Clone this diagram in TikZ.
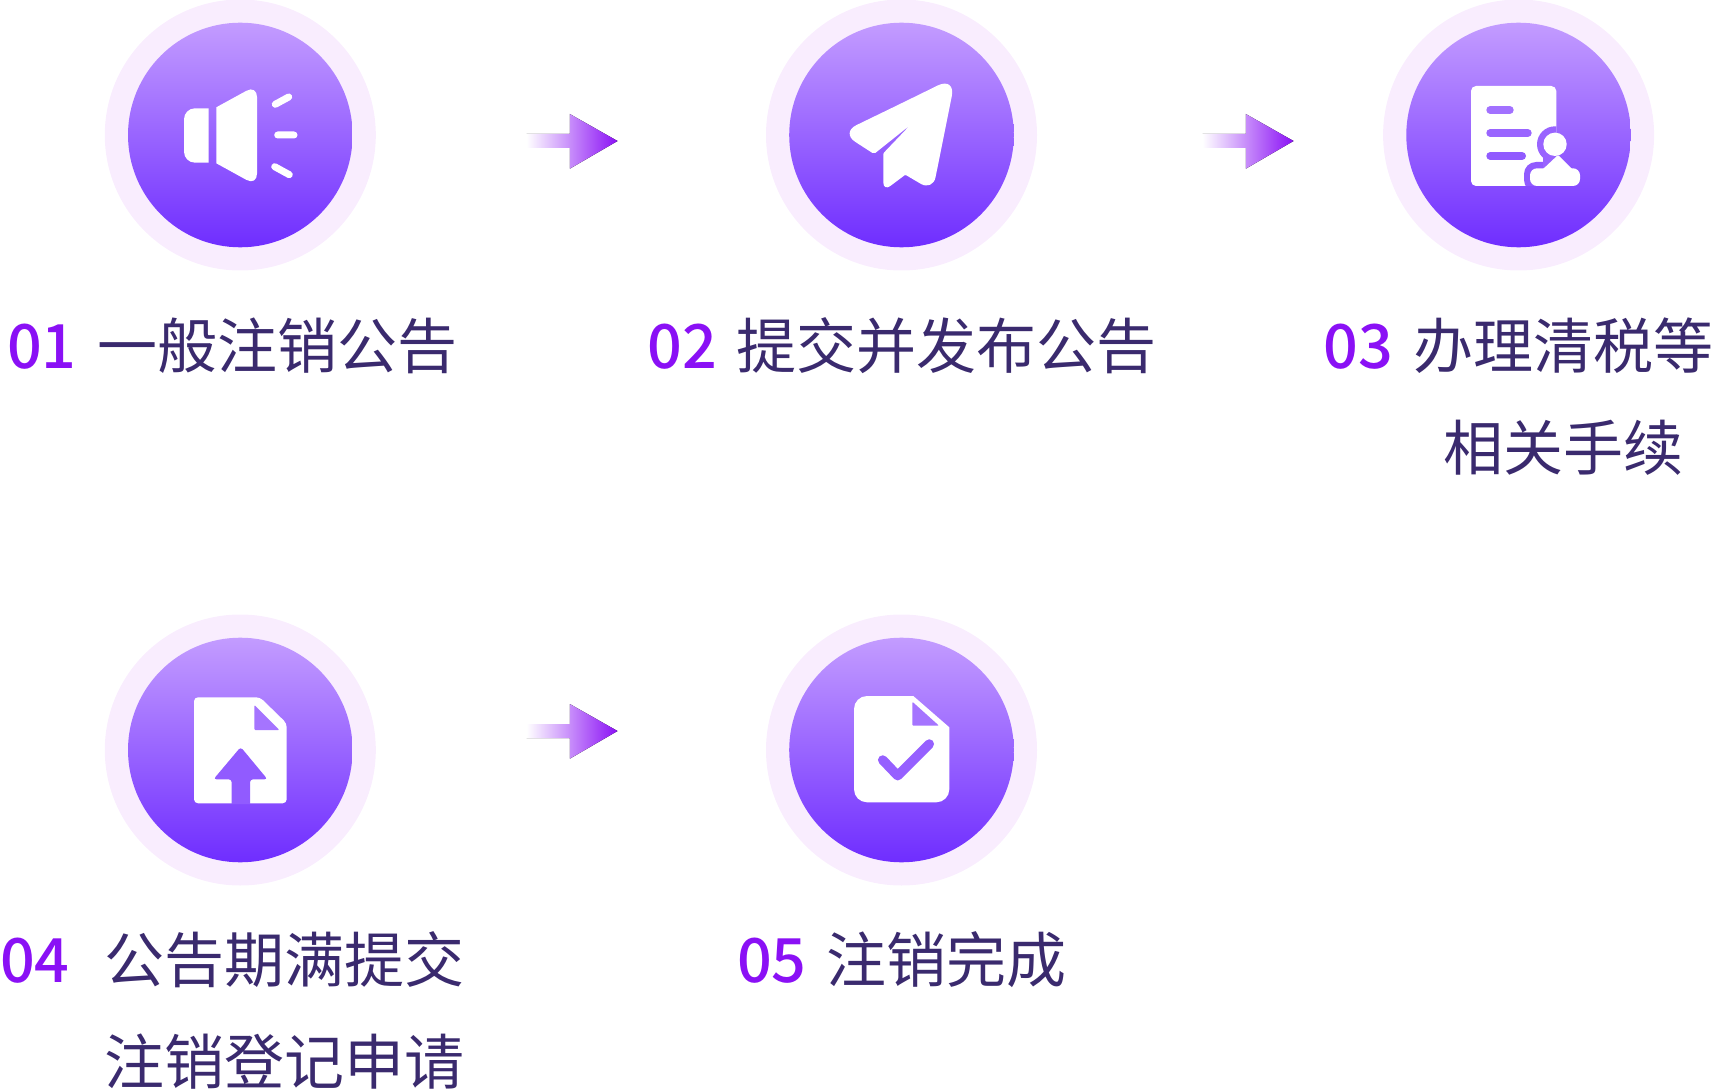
\documentclass[tikz,border=0pt]{standalone}
\usepackage{fontspec}
\usetikzlibrary{positioning}
\newfontfamily\cjk{Noto Sans CJK SC}
\newfontfamily\cjknum{Noto Sans CJK SC Medium}
\definecolor{circtop}{HTML}{C39CFF}
\definecolor{circbot}{HTML}{6F2DFF}
\definecolor{ringcol}{HTML}{F9EDFE}
\definecolor{numcol}{HTML}{8A10F5}
\definecolor{textcol}{HTML}{3A2A6E}
\tikzset{
  ring/.style={circle,fill=ringcol,minimum size=271pt,inner sep=0pt},
  disc/.style={circle,top color=circtop,bottom color=circbot,minimum size=224.6pt,inner sep=0pt},
  num/.style={font=\cjknum\fontsize{61}{102}\selectfont,text=numcol,inner sep=0pt,anchor=base west},
  label/.style={font=\cjk\fontsize{60}{102}\selectfont,text=textcol,inner sep=0pt,align=center},
  arrowfill/.style={left color=white,right color=numcol},
  iconline/.style={line cap=round,line join=round},
}
\begin{document}
\begin{tikzpicture}[x=1pt,y=-1pt]
\useasboundingbox (0,0) rectangle (1714,1091);

\foreach \nm/\cx/\cy in {a/240.3/135,b/901.5/135,c/1518.6/135,d/240.3/750,e/901.5/750}{
  \node[ring] (ring\nm) at (\cx,\cy) {};
  \node[disc] (disc\nm) at (\cx,\cy) {};
}

\foreach \ax/\ay in {0.5/0,676.5/0,0.5/590}{
  \fill[arrowfill,shift={(\ax,\ay)}] (526,134) -- (569.3,134) -- (569.3,114) -- (617,141)
    -- (569.3,168.7) -- (569.3,148) -- (526,148) -- cycle;
}

% speaker
\fill[white] (208.7,135) -- (208.7,108.3) [rounded corners=11pt] -- (184,108.3) -- (184,162.7) [sharp corners] -- (208.7,162.7) -- cycle;
\fill[white] (216.3,135) -- (216.3,107.3) [rounded corners=12pt] -- (257,85) -- (257,185.7) [sharp corners] -- (216.3,163.3) -- cycle;
\draw[white,line width=7pt,iconline] (275.3,104.3) -- (288.7,97) (277.7,135) -- (294,135) (274.7,166.7) -- (289.3,174.7);

% plane
\fill[white] (900,104) [rounded corners=20pt] -- (955.7,76.7) [rounded corners=14pt] -- (932.8,190.9) [rounded corners=1pt] -- (905.3,174.7) [rounded corners=9pt] -- (883.3,191.3) [rounded corners=1pt] -- (883.3,153.3) [sharp corners] -- (910,125.3) [rounded corners=2pt] -- (874,154) [rounded corners=17pt] -- (841,132.6) -- cycle;

% form with person
\fill[white,rounded corners=5pt] (1471,86) rectangle (1556.3,186);
\begin{scope}
  \clip (1471,86) rectangle (1556.3,186);
  \fill[circbot!50!circtop] (1555,144.3) circle (18);
  \fill[circbot!59!circtop,rounded corners=12pt] (1524,162) rectangle (1586,192);
  \fill[circbot!50!circtop] (1543,150) -- (1572,150) -- (1572,170) -- (1543,170) -- cycle;
\end{scope}
\draw[circbot!39!circtop,line width=8pt,iconline] (1490.3,110) -- (1509.7,110);
\draw[circbot!49!circtop,line width=8pt,iconline] (1490.3,133) -- (1527.7,133);
\draw[circbot!59!circtop,line width=8pt,iconline] (1490.3,156) -- (1522,156);
\fill[white] (1555,144.3) circle (11.7);
\fill[white,rounded corners=7pt] (1530,168.3) rectangle (1580,186);
\fill[white,rounded corners=1pt] (1542,170) -- (1558,155) -- (1573,170) -- cycle;

% upload file
\fill[white,rounded corners=4pt] (194,750) -- (194,697.3) -- (260,697.3) -- (286.7,723.3) -- (286.7,803.3) -- (194,803.3) -- cycle;
\fill[circbot!36!circtop,rounded corners=1pt] (254.3,715) -- (254.3,730) -- (279.3,730) -- (254.3,705) -- cycle;
\fill[circbot!59!circtop] (250,790) [rounded corners=3pt] -- (250,779.3) -- (267.5,779.3) -- (240.7,747) -- (213.5,779.3) -- (231.7,779.3) [sharp corners] -- (231.7,804) -- (250,804) -- cycle;

% done file
\fill[white] (854,750) [rounded corners=13pt] -- (854,696) [sharp corners] -- (913.3,696) -- (949.3,727.3) [rounded corners=13pt] -- (949.3,802.3) -- (854,802.3) -- cycle;
\fill[circbot!36!circtop,rounded corners=1pt] (912.3,712) -- (912.3,725.7) -- (939,725.7) -- (912.3,701.7) -- cycle;
\draw[circbot!54!circtop,line width=9.5pt,iconline] (882.7,760) -- (897.7,775.7) -- (929.3,744);

\node[num] (num1) at (7,368) {01};
\node[label,base right=20pt of num1] (label1) {一般注销公告};
\node[num] (num2) at (647.5,368) {02};
\node[label,base right=19pt of num2] (label2) {提交并发布公告};
\node[num] (num3) at (1323.5,368) {03};
\node[label,base right=20pt of num3,yshift=-102pt] (label3) {办理清税等\\相关手续};
\node[num] (num4) at (0,982) {04};
\node[label,base right=34pt of num4,yshift=-102pt] (label4) {公告期满提交\\注销登记申请};
\node[num] (num5) at (737,982) {05};
\node[label,base right=19.5pt of num5] (label5) {注销完成};
\end{tikzpicture}
\end{document}
